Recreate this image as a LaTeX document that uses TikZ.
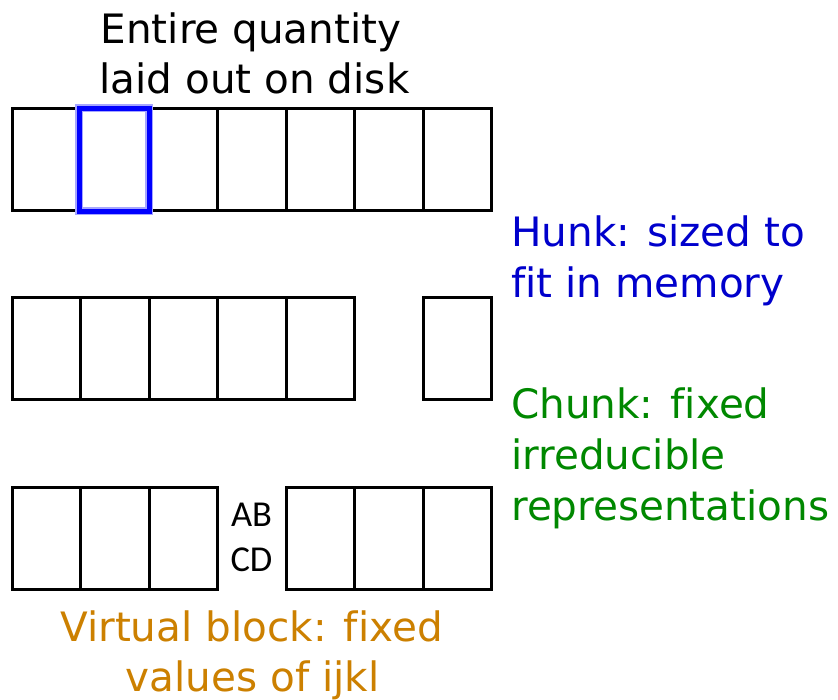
\documentclass[tikz,border=0pt]{standalone}
\usepackage{fontspec}
\setmainfont[Ligatures=NoCommon]{DejaVu Sans}
\newfontfamily\calfont{Carlito}
\definecolor{hunkblue}{RGB}{0,0,204}
\definecolor{chunkgreen}{RGB}{0,136,0}
\definecolor{vborange}{RGB}{204,128,0}
\definecolor{selblue}{RGB}{0,0,255}
\begin{document}
\begin{tikzpicture}[x=1pt,y=-1pt,
  cell/.style={draw=black,line width=3pt,minimum width=68.57pt,minimum height=102pt,inner sep=0pt,outer sep=0pt},
  selhalo/.style={draw=selblue!35,line width=8pt,minimum width=70pt,minimum height=103pt,inner sep=0pt},
  selcell/.style={draw=selblue,line width=5pt,minimum width=70pt,minimum height=103pt,inner sep=0pt},
  big/.style={inner sep=0pt,font=\fontsize{40.5}{50}\selectfont},
  small/.style={inner sep=0pt,font=\calfont\fontsize{36.5}{40}\selectfont}]
\useasboundingbox (0,0) rectangle (838,700);
% row 1
\foreach \i in {0,...,6} {
  \node[cell] (a\i) at ({12+68.57*(\i+0.5)},160) {};
}
\node[selhalo] (halo) at (114.3,160) {};
\node[selcell] (sel) at (114.3,160) {};
% row 2
\foreach \i in {0,...,4} {
  \node[cell] (b\i) at ({12+68.57*(\i+0.5)},349) {};
}
\node[cell] (b6) at ({12+68.57*6.5},349) {};
% row 3
\foreach \i in {0,1,2,4,5,6} {
  \node[cell] (c\i) at ({12+68.57*(\i+0.5)},538) {};
}
\node[small,anchor=base] (ab) at (251.5,526) {AB};
\node[small,anchor=base] (cd) at (251.5,571) {CD};
% texts
\node[big,anchor=base] (t1) at (251,44) {Entire quantity};
\node[big,anchor=base] (t2) at (254.5,94) {laid out on disk};
\node[big,anchor=base west,text=hunkblue] (h1) at (511,247) {Hunk: sized to};
\node[big,anchor=base west,text=hunkblue] (h2) at (511,298) {fit in memory};
\node[big,anchor=base west,text=chunkgreen] (k1) at (511,418) {Chunk: fixed};
\node[big,anchor=base west,text=chunkgreen] (k2) at (511,469) {irreducible};
\node[big,anchor=base west,text=chunkgreen] (k3) at (511,520) {representations};
\node[big,anchor=base,text=vborange] (v1) at (251.5,641) {Virtual block: fixed};
\node[big,anchor=base,text=vborange] (v2) at (252.5,691) {values of ijkl};
\end{tikzpicture}
\end{document}
